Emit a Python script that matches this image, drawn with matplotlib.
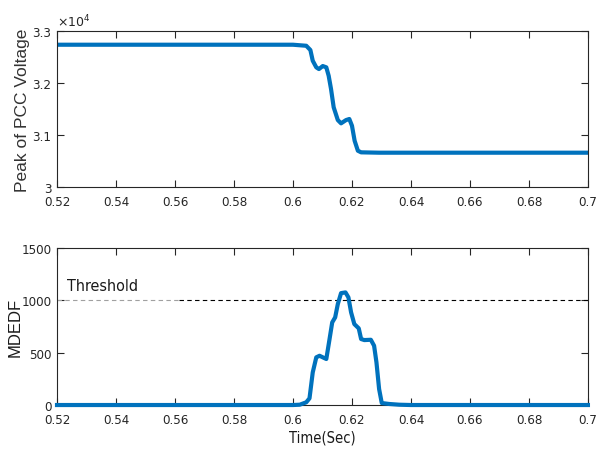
import matplotlib
matplotlib.use("Agg")
import matplotlib.pyplot as plt
from matplotlib.ticker import FuncFormatter

# peak PCC voltage (V)
t_volt = [0.52, 0.600, 0.6045, 0.6059, 0.6067, 0.6079, 0.6088, 0.6101, 0.6113,
          0.6121, 0.6129, 0.6138, 0.6152, 0.6163, 0.6180, 0.6191, 0.6200,
          0.6209, 0.6220, 0.6231, 0.6292, 0.70]
volt = [32737, 32737, 32717, 32635, 32429, 32302, 32269, 32327, 32302,
        32140, 31885, 31533, 31288, 31225, 31288, 31308, 31179,
        30890, 30698, 30667, 30660, 30660]

# MDEDF index
t_mdedf = [0.52, 0.6000, 0.6023, 0.6045, 0.6056, 0.6067, 0.6079, 0.6090, 0.6113,
           0.6124, 0.6133, 0.6143, 0.6152, 0.6163, 0.6178, 0.6188, 0.6197,
           0.6208, 0.6223, 0.6231, 0.6242, 0.6264, 0.6275, 0.6283, 0.6292,
           0.6301, 0.6326, 0.6360, 0.6400, 0.70]
mdedf = [0, 0, 3, 26, 64, 312, 456, 471, 440,
         631, 790, 838, 965, 1070, 1077, 1029, 886,
         774, 733, 631, 621, 624, 567, 408, 153,
         19, 10, 3, 0, 0]

threshold = 1000
thr_gray_x = [0.52, 0.5615]
thr_black_x = [0.5615, 0.70]
thr_label = "Threshold"

x_ticks = [0.52, 0.54, 0.56, 0.58, 0.60, 0.62, 0.64, 0.66, 0.68, 0.70]
volt_ticks = [30000, 31000, 32000, 33000]
mdedf_ticks = [0, 500, 1000, 1500]

blue = "#0072BD"
ink = "#262626"
wide = ["Liberation Sans", "DejaVu Sans"]
narrow = dict(family="DejaVu Sans", stretch="condensed")

fig = plt.figure(figsize=(6.04, 4.56), dpi=100)
ax1 = fig.add_axes([0.0944, 0.5877, 0.879, 0.342])
ax2 = fig.add_axes([0.0944, 0.1096, 0.879, 0.344])


def style(ax):
    ax.set_xlim(0.52, 0.70)
    ax.set_xticks(x_ticks)
    ax.xaxis.set_major_formatter(FuncFormatter(lambda v, p: f"{v:g}"))
    ax.tick_params(direction="in", length=5, width=0.8, top=True, right=True,
                   labelsize=9.5, colors=ink, pad=4)
    ax.tick_params(axis="x", pad=6)
    for lab in ax.get_xticklabels() + ax.get_yticklabels():
        lab.set_family("DejaVu Sans")
        lab.set_stretch("condensed")
    for s in ax.spines.values():
        s.set_linewidth(0.8)
        s.set_color(ink)


ax1.plot(t_volt, volt, color=blue, lw=3, solid_joinstyle="round")
ax1.set_ylim(30000, 33000)
ax1.set_yticks(volt_ticks)
ax1.yaxis.set_major_formatter(FuncFormatter(lambda v, p: f"{v / 1e4:g}"))
style(ax1)
ax1.set_ylabel("Peak of PCC Voltage", family=wide, fontsize=12.5, color="#333333")
ax1.yaxis.set_label_coords(-0.05, 0.5)
ax1.text(0.0, 1.01, r"$\times10^4$", transform=ax1.transAxes, fontsize=9,
         color=ink, ha="left", va="bottom", **narrow)

ax2.plot(thr_gray_x, [threshold, threshold], color="#a0a0a0", lw=0.8, ls=(0, (4, 3)))
ax2.plot(thr_black_x, [threshold, threshold], color="black", lw=0.8, ls=(0, (4, 3)))
ax2.plot(t_mdedf, mdedf, color=blue, lw=3, clip_on=False, zorder=3,
         solid_joinstyle="round")
ax2.set_ylim(0, 1500)
ax2.set_yticks(mdedf_ticks)
style(ax2)
ax2.text(0.5233, 1140, thr_label, fontsize=11.5, va="center", color="#1a1a1a", **narrow)
ax2.set_ylabel("MDEDF", family=wide, fontsize=12, color="#1a1a1a")
ax2.yaxis.set_label_coords(-0.064, 0.5)
ax2.set_xlabel("Time(Sec)", fontsize=10.5, labelpad=2, color="#1a1a1a", **narrow)

fig.savefig("out.png", dpi=100)
